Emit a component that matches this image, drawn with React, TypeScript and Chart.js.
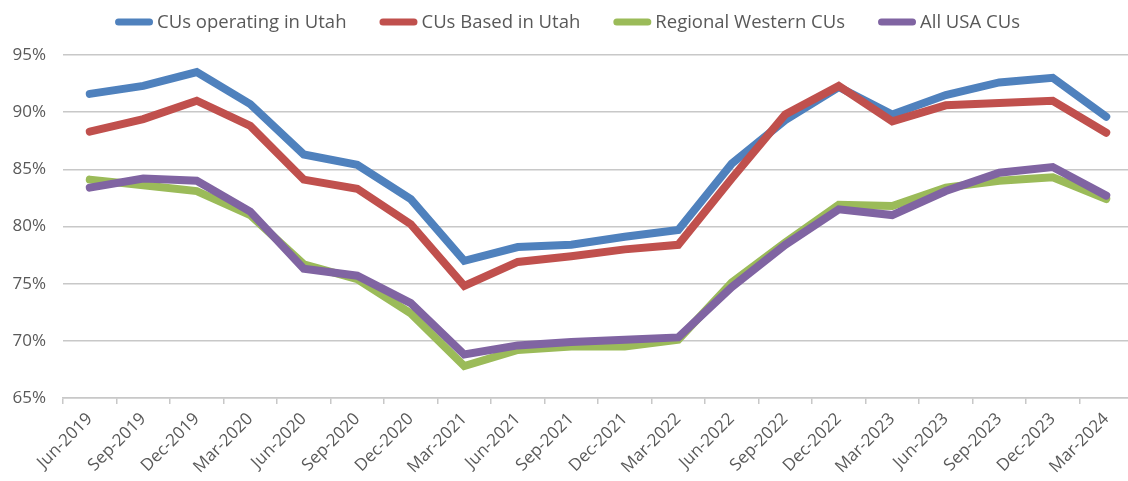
import React, { useEffect, useRef } from "react";
import { Chart, registerables } from "chart.js";

Chart.register(...registerables);

const categories = [
  "Jun-2019", "Sep-2019", "Dec-2019", "Mar-2020", "Jun-2020", "Sep-2020", "Dec-2020",
  "Mar-2021", "Jun-2021", "Sep-2021", "Dec-2021", "Mar-2022", "Jun-2022", "Sep-2022",
  "Dec-2022", "Mar-2023", "Jun-2023", "Sep-2023", "Dec-2023", "Mar-2024",
];

const operatingInUtah = [91.6, 92.3, 93.5, 90.7, 86.3, 85.4, 82.4, 77.0, 78.2, 78.4, 79.1, 79.7, 85.5, 89.3, 92.2, 89.8, 91.5, 92.6, 93.0, 89.6];
const basedInUtah = [88.3, 89.4, 91.0, 88.8, 84.1, 83.3, 80.2, 74.8, 76.9, 77.4, 78.0, 78.4, 84.2, 89.8, 92.3, 89.2, 90.6, 90.8, 91.0, 88.2];
const regionalWestern = [84.1, 83.6, 83.1, 81.0, 76.7, 75.4, 72.4, 67.8, 69.2, 69.5, 69.5, 70.1, 75.1, 78.6, 81.9, 81.8, 83.4, 84.0, 84.3, 82.4];
const allUSA = [83.4, 84.2, 84.0, 81.3, 76.3, 75.7, 73.3, 68.8, 69.6, 69.9, 70.1, 70.3, 74.7, 78.4, 81.5, 81.0, 83.1, 84.7, 85.2, 82.7];

const seriesNames = ["CUs operating in Utah", "CUs Based in Utah", "Regional Western CUs", "All USA CUs"];
const seriesColors = ["#4F81BD", "#C0504D", "#9BBB59", "#8064A2"];

const yMin = 65;
const yMax = 95;
const yStep = 5;

const FONT = '"Open Sans", "Noto Sans", sans-serif';
const TEXT_COLOR = "#595959";

const lineLegend = {
  id: "lineLegend",
  afterDraw(chart: any) {
    const ctx = chart.ctx;
    ctx.save();
    ctx.font = `18.5px ${FONT}`;
    ctx.textBaseline = "middle";
    ctx.textAlign = "left";
    const lineVisual = 38;
    const lw = 7;
    const textGap = 4;
    const itemGap = 33;
    const items = chart.data.datasets.map((ds: any) => ({
      text: ds.label,
      color: ds.borderColor,
      w: lineVisual + textGap + ctx.measureText(ds.label).width,
    }));
    const total = items.reduce((s: number, it: any) => s + it.w, 0) + itemGap * (items.length - 1);
    let x = (chart.width - total) / 2;
    const y = 22;
    for (const it of items) {
      ctx.strokeStyle = it.color;
      ctx.lineWidth = lw;
      ctx.lineCap = "round";
      ctx.beginPath();
      ctx.moveTo(x + lw / 2, y);
      ctx.lineTo(x + lineVisual - lw / 2, y);
      ctx.stroke();
      ctx.fillStyle = TEXT_COLOR;
      ctx.fillText(it.text, x + lineVisual + textGap, y + 1);
      x += it.w + itemGap;
    }
    ctx.restore();
  },
};

export default function App() {
  const canvasRef = useRef<HTMLCanvasElement | null>(null);

  useEffect(() => {
    const canvas = canvasRef.current;
    if (!canvas) return;
    const seriesData = [operatingInUtah, basedInUtah, regionalWestern, allUSA];
    const chart = new Chart(canvas, {
      type: "line",
      data: {
        labels: categories,
        datasets: seriesData.map((d, i) => ({
          label: seriesNames[i],
          data: d,
          borderColor: seriesColors[i],
          backgroundColor: seriesColors[i],
          borderWidth: 8,
          borderCapStyle: "round",
          borderJoinStyle: "miter",
          pointRadius: 0,
          pointHoverRadius: 0,
          tension: 0,
          fill: false,
          order: seriesData.length - i,
        })),
      },
      options: {
        responsive: false,
        animation: false,
        events: [],
        layout: { padding: { top: 55, right: 2, left: 0, bottom: 0 } },
        plugins: {
          legend: { display: false },
          tooltip: { enabled: false },
          title: { display: false },
        },
        scales: {
          x: {
            type: "category",
            offset: true,
            grid: {
              display: true,
              offset: true,
              drawOnChartArea: false,
              drawTicks: true,
              tickLength: 6,
              color: "#c8c8c8",
              lineWidth: 1.5,
            },
            border: { display: true, color: "#c8c8c8", width: 1.5 },
            ticks: {
              autoSkip: false,
              maxRotation: 45,
              minRotation: 45,
              padding: 5,
              color: TEXT_COLOR,
              font: { family: FONT, size: 17 },
            },
            afterFit(scale: any) {
              scale.height = 83;
            },
          },
          y: {
            min: yMin,
            max: yMax,
            grid: {
              color: "#c8c8c8",
              lineWidth: 1.5,
              drawTicks: false,
            },
            border: { display: false },
            ticks: {
              stepSize: yStep,
              padding: 17,
              color: TEXT_COLOR,
              font: { family: FONT, size: 17 },
              callback: (v: any) => `${v}%`,
            },
            afterFit(scale: any) {
              scale.width = 63;
            },
          },
        },
      },
      plugins: [lineLegend],
    });
    return () => chart.destroy();
  }, []);

  return (
    <div style={{ position: "fixed", left: 0, top: 0, width: 1135, height: 481, background: "#fff" }}>
      <canvas ref={canvasRef} width={1135} height={481} style={{ display: "block" }} />
    </div>
  );
}
